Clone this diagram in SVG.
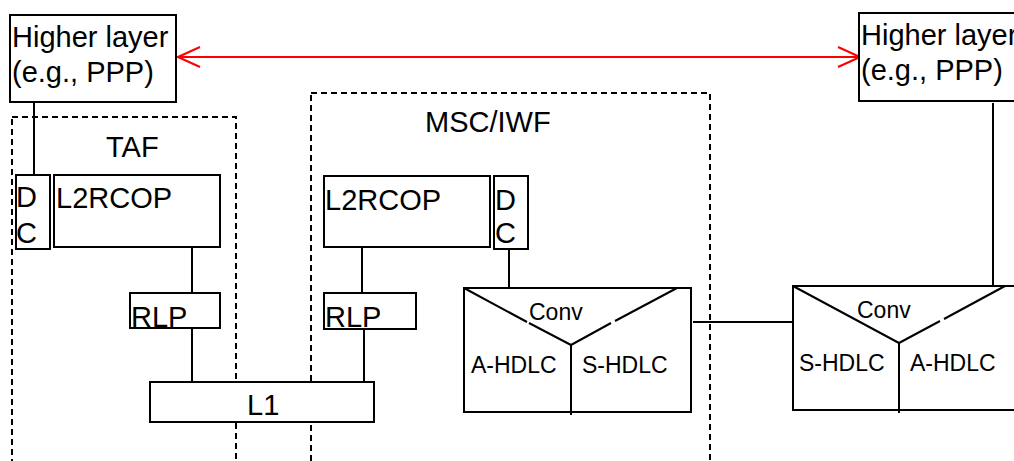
<svg xmlns="http://www.w3.org/2000/svg" width="1014" height="461" viewBox="0 0 1014 461">
<style>
.box{fill:#fff;stroke:#000;stroke-width:2}
.dash{fill:none;stroke:#000;stroke-width:2;stroke-dasharray:6,4}
.ln{fill:none;stroke:#000;stroke-width:2}
.t{font-family:"Liberation Sans",Arial,sans-serif;fill:#000}
.big{font-size:29px}
.mid{font-size:29px}
.sm{font-size:23px}
</style>
<defs>
<marker id="arr" viewBox="0 0 24 22" refX="23" refY="11" markerWidth="24" markerHeight="22" markerUnits="userSpaceOnUse" orient="auto-start-reverse">
<path d="M1,1 L23,11 L1,21" fill="none" stroke="#f00" stroke-width="2"/>
</marker>
</defs>
<rect width="1014" height="461" fill="#fff"/>
<g id="taf">
<rect class="dash" x="12" y="117" width="224" height="360"/>
<text class="t mid" x="106" y="157">TAF</text>
</g>
<g id="msc">
<rect class="dash" x="311" y="93" width="399" height="380"/>
<text class="t mid" x="425" y="132">MSC/IWF</text>
</g>
<g id="connectors">
<line x1="178" y1="57" x2="860" y2="57" stroke="#f00" stroke-width="2" marker-start="url(#arr)" marker-end="url(#arr)"/>
<line class="ln" x1="34" y1="103" x2="34" y2="175"/>
<line class="ln" x1="192" y1="247" x2="192" y2="293"/>
<line class="ln" x1="192" y1="328" x2="192" y2="382"/>
<line class="ln" x1="362" y1="247" x2="362" y2="293"/>
<line class="ln" x1="364" y1="329" x2="364" y2="382"/>
<line class="ln" x1="509" y1="249" x2="509" y2="288"/>
<line class="ln" x1="693" y1="322" x2="793" y2="322"/>
<line class="ln" x1="993" y1="103" x2="993" y2="286"/>
</g>
<g id="hl-left">
<rect class="box" x="10" y="15" width="166" height="87"/>
<text class="t big" x="12" y="47">Higher layer</text>
<text class="t big" x="12" y="82">(e.g., PPP)</text>
</g>
<g id="hl-right">
<rect class="box" x="859" y="13" width="170" height="88"/>
<text class="t big" x="861" y="45">Higher layer</text>
<text class="t big" x="861" y="80">(e.g., PPP)</text>
</g>
<g id="dc-left">
<rect class="box" x="16" y="175" width="34" height="74"/>
<text class="t mid" x="16" y="207">D</text>
<text class="t mid" x="16" y="243">C</text>
</g>
<g id="l2rcop-left">
<rect class="box" x="54" y="175" width="166" height="72"/>
<text class="t mid" x="56" y="208">L2RCOP</text>
</g>
<g id="rlp-left">
<rect class="box" x="130" y="293" width="90" height="35"/>
<text class="t mid" x="131" y="327">RLP</text>
</g>
<g id="l1">
<rect class="box" x="150" y="382" width="224" height="40"/>
<text class="t mid" x="247" y="415">L1</text>
</g>
<g id="l2rcop-right">
<rect class="box" x="324" y="176" width="166" height="71"/>
<text class="t mid" x="325" y="210">L2RCOP</text>
</g>
<g id="dc-right">
<rect class="box" x="494" y="176" width="34" height="73"/>
<text class="t mid" x="495" y="210">D</text>
<text class="t mid" x="495" y="243">C</text>
</g>
<g id="rlp-right">
<rect class="box" x="324" y="293" width="92" height="36"/>
<text class="t mid" x="325" y="327">RLP</text>
</g>
<g id="conv-mid">
<rect class="box" x="464" y="288" width="227" height="124"/>
<polyline class="ln" points="464,288 527,322"/>
<polyline class="ln" points="529,323 571,345 611,323"/>
<polyline class="ln" points="615,321 677,288"/>
<line class="ln" x1="571" y1="345" x2="571" y2="415"/>
<text class="t sm" x="529" y="320">Conv</text>
<text class="t sm" x="471" y="373">A-HDLC</text>
<text class="t sm" x="582" y="373">S-HDLC</text>
</g>
<g id="conv-right">
<rect class="box" x="793" y="286" width="240" height="124"/>
<polyline class="ln" points="793,286 899,343 940,321"/>
<polyline class="ln" points="944,319 1005,286"/>
<line class="ln" x1="899" y1="343" x2="899" y2="413"/>
<text class="t sm" x="857" y="318">Conv</text>
<text class="t sm" x="799" y="371">S-HDLC</text>
<text class="t sm" x="910" y="371">A-HDLC</text>
</g>
</svg>
